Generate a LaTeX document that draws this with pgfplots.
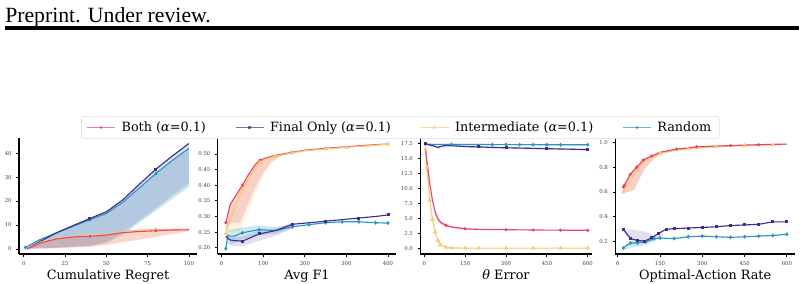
\documentclass[border=0pt]{standalone}
\usepackage{pgfplots}
\pgfplotsset{compat=1.18}
\usepackage{fontspec}
\setmainfont{DejaVu Serif}
\newfontfamily\hdr{Liberation Serif}
\definecolor{cBoth}{RGB}{232,69,107}
\definecolor{cFinal}{RGB}{60,46,140}
\definecolor{cInter}{RGB}{248,200,108}
\definecolor{cRand}{RGB}{42,149,192}
\pgfplotsset{
  panel/.style={
    scale only axis, anchor=south west, height=87pt,
    axis lines=left, axis line style={-, line width=0.9pt, black},
    tick align=outside, major tick length=2pt,
    tick style={black, line width=0.6pt},
    tick label style={font=\fontsize{4}{4}\selectfont, text=black!75},
    /pgf/number format/assume math mode=true,
    xlabel style={font=\fontsize{9.6}{11}\selectfont, inner sep=1pt, yshift=1pt},
    clip=false,
  },
  lBoth/.style={cBoth, line width=0.85pt, mark=*, mark size=0.7pt, mark options={solid, fill=cBoth}},
  lFinal/.style={cFinal, line width=0.85pt, mark=square*, mark size=0.7pt, mark options={solid, fill=cFinal}},
  lInter/.style={cInter, line width=0.85pt, mark=triangle*, mark size=1.1pt, mark options={solid, fill=white}},
  lRand/.style={cRand, line width=0.85pt, mark=diamond*, mark size=0.9pt, mark options={solid, fill=cRand}},
  band/.style={draw=none, fill=#1, fill opacity=0.22, forget plot},
  bandF/.style={draw=none, fill=cFinal, fill opacity=0.14, forget plot},
}
\begin{document}
\begin{tikzpicture}
\path[use as bounding box] (0,0) rectangle (603pt,212.25pt);
\node[anchor=base west, inner sep=0pt, font=\hdr\fontsize{16.3}{18}\selectfont] at (3.75pt,195.75pt) {Preprint. Under review.};
\fill (3.75pt,189.75pt) rectangle (599.25pt,192.4pt);

% Panel 1: Cumulative Regret
\begin{axis}[panel, at={(14.25pt,21.75pt)}, width=133.5pt,
  xmin=-2.9, xmax=104.9, ymin=-2.1, ymax=46.3,
  xtick={0,25,50,75,100}, ytick={0,10,20,30,40},
  xlabel={Cumulative Regret}]
\addplot[band=cRand, fill opacity=0.27] coordinates {(1,0.2)(20,0.5)(40,1.2)(50,2.5)(60,6)(70,11)(80,16)(90,21)(100,26)
  (100,42)(90,37)(80,31.5)(70,25.5)(60,19.5)(50,14.8)(40,12.2)(30,9.5)(20,6.8)(10,4)(1,0.6)} -- cycle;
\addplot[bandF] coordinates {(2,0)(20,0.6)(40,1.5)(50,3)(60,7)(70,12)(80,17)(90,22.5)(100,27.5)
  (100,44.2)(90,39)(80,33.5)(70,27.2)(60,20.7)(50,15.7)(40,12.9)(30,10)(20,7)(10,3.4)(2,0)} -- cycle;
\addplot[band=cInter] coordinates {(2,0)(20,0.4)(40,0.9)(50,1.7)(60,3)(70,4)(80,5.2)(90,6.4)(100,7.5)
  (100,8.3)(90,8.2)(80,8.1)(70,7.9)(60,7.4)(50,6.1)(40,5.6)(30,5.3)(20,4.5)(10,2.8)(2,0)} -- cycle;
\addplot[band=cBoth, fill opacity=0.16] coordinates {(2,0)(20,0.3)(40,0.8)(50,1.6)(60,2.8)(70,3.8)(80,5)(90,6.2)(100,7.3)
  (100,8)(90,7.9)(80,7.6)(70,7.3)(60,6.8)(50,5.8)(40,5.3)(30,5)(20,4.2)(10,2.5)(2,0)} -- cycle;
\addplot[lRand, mark indices={1,5,9}] coordinates {(1,0.6)(10,4)(20,6.8)(30,9.5)(40,12.2)(50,14.8)(60,19.5)(70,25.5)(80,31.5)(90,37)(100,42)};
\addplot[lFinal, mark indices={5,9}] coordinates {(2,0)(10,3.2)(20,6.8)(30,9.8)(40,12.7)(50,15.5)(60,20.5)(70,27)(80,33.3)(90,38.8)(100,44)};
\addplot[lInter, mark indices={5,9}] coordinates {(2,0)(10,2.8)(20,4.5)(30,5.3)(40,5.6)(50,6.1)(60,7.4)(70,7.9)(80,8.1)(90,8.2)(100,8.3)};
\addplot[lBoth, mark indices={5,9}] coordinates {(2,0)(10,2.5)(20,4.2)(30,5)(40,5.3)(50,5.8)(60,6.8)(70,7.3)(80,7.6)(90,7.9)(100,8)};
\end{axis}

% Panel 2: Avg F1
\begin{axis}[panel, at={(163.3pt,21.75pt)}, width=133.8pt,
  xmin=-9.5, xmax=419.5, ymin=0.18, ymax=0.551,
  xtick={0,100,200,300,400}, ytick={0.20,0.25,0.30,0.35,0.40,0.45,0.50},
  yticklabel style={/pgf/number format/.cd, fixed, fixed zerofill, precision=2},
  xlabel={Avg F1}]
\addplot[band=cInter] coordinates {(10,0.22)(20,0.25)(45,0.255)(60,0.30)(80,0.37)(100,0.43)(120,0.47)(140,0.49)(168,0.503)
  (168,0.505)(128,0.495)(108,0.488)(92,0.48)(80,0.465)(64,0.433)(50,0.40)(32,0.363)(20,0.337)(10,0.28)} -- cycle;
\addplot[band=cBoth, fill opacity=0.2] coordinates {(10,0.25)(20,0.28)(45,0.28)(60,0.33)(80,0.39)(100,0.44)(120,0.475)(140,0.492)(168,0.505)
  (168,0.505)(128,0.495)(108,0.488)(92,0.48)(80,0.465)(64,0.433)(50,0.40)(32,0.363)(20,0.337)(10,0.28)} -- cycle;
\addplot[band=cRand] coordinates {(15,0.255)(30,0.26)(50,0.265)(90,0.272)(130,0.266)(170,0.274)
  (170,0.262)(130,0.245)(90,0.24)(50,0.228)(30,0.215)(15,0.21)} -- cycle;
\addplot[bandF] coordinates {(20,0.235)(50,0.235)(90,0.255)(130,0.262)(170,0.28)
  (170,0.262)(130,0.238)(90,0.222)(50,0.205)(20,0.207)} -- cycle;
\addplot[lRand, mark indices={1,5,6,8,9,10,11,12,13,14}] coordinates {(10,0.197)(15,0.24)(20,0.237)(30,0.237)(50,0.248)(90,0.258)(130,0.255)(170,0.267)(210,0.274)(250,0.28)(290,0.283)(330,0.283)(370,0.28)(400,0.279)};
\addplot[lFinal, mark indices={4,5,7,9,11,13}] coordinates {(10,0.237)(20,0.225)(30,0.223)(50,0.221)(90,0.244)(130,0.255)(170,0.275)(210,0.28)(250,0.285)(290,0.29)(330,0.295)(370,0.30)(400,0.305)};
\addplot[lBoth, mark indices={1,4,7,10,12}] coordinates {(10,0.28)(20,0.337)(32,0.363)(50,0.40)(64,0.433)(80,0.465)(92,0.48)(108,0.488)(128,0.495)(168,0.505)(200,0.512)(250,0.518)(300,0.523)(350,0.528)(400,0.532)};
\addplot[lInter, mark indices={1,4,7,9,10,12,13,14,15}] coordinates {(10,0.245)(20,0.29)(32,0.33)(50,0.385)(64,0.42)(80,0.455)(92,0.473)(108,0.485)(128,0.492)(168,0.503)(200,0.51)(250,0.516)(300,0.521)(350,0.526)(400,0.531)};
\end{axis}

% Panel 3: theta Error
\begin{axis}[panel, at={(315.15pt,21.75pt)}, width=128.7pt,
  xmin=-15, xmax=615, ymin=-0.95, ymax=18.38,
  xtick={0,150,300,450,600}, ytick={0,2.5,5,7.5,10,12.5,15,17.5},
  yticklabel style={/pgf/number format/.cd, fixed, fixed zerofill, precision=1},
  xlabel={{\itshape θ} Error}]
\addplot[bandF] coordinates {(4,17.5)(50,17.0)(100,17.25)(200,17.05)(300,16.9)(400,16.8)(500,16.7)(600,16.6)
  (600,16.3)(500,16.4)(400,16.5)(300,16.6)(200,16.75)(100,16.9)(50,16.6)(4,17.3)} -- cycle;
\addplot[band=cRand] coordinates {(4,17.45)(600,17.38)(600,17.12)(4,17.25)} -- cycle;
\addplot[band=cBoth] coordinates {(40,6.4)(60,4.6)(100,3.75)(150,3.45)(200,3.3)(200,3.0)(150,3.05)(100,3.35)(60,4.0)(40,5.6)} -- cycle;
\addplot[lRand, mark indices={1,6,9,10,11,12,13,14,15}] coordinates {(4,17.35)(20,17.33)(40,17.32)(60,17.31)(80,17.3)(100,17.3)(150,17.3)(200,17.29)(250,17.28)(300,17.28)(350,17.27)(400,17.27)(450,17.26)(500,17.26)(600,17.25)};
\addplot[lFinal, mark indices={1,9,11,13,15}] coordinates {(4,17.4)(20,17.2)(40,17.0)(50,16.8)(60,17.0)(80,17.15)(100,17.1)(150,16.95)(200,16.9)(250,16.8)(300,16.75)(400,16.65)(450,16.6)(500,16.55)(600,16.45)};
\addplot[lInter, mark indices={}] coordinates {(4,16.5)(10,13.5)(20,8.0)(30,4.8)(40,2.7)(50,1.3)(60,0.55)(80,0.15)(100,0.06)(150,0.03)(200,0.02)(300,0.02)(400,0.02)(500,0.02)(600,0.02)};
\addplot[lBoth, mark indices={8,10,12,13,14,15}] coordinates {(4,16.6)(10,14.5)(20,10.8)(30,8)(40,6.0)(50,4.9)(60,4.3)(80,3.8)(100,3.55)(150,3.25)(200,3.15)(300,3.1)(400,3.05)(500,3.02)(600,3.0)};
\end{axis}

% Panel 4: Optimal-Action Rate
\begin{axis}[panel, at={(461.4pt,21.75pt)}, width=134.9pt,
  xmin=-9, xmax=629, ymin=0.101, ymax=1.035,
  xtick={0,150,300,450,600}, ytick={0.2,0.4,0.6,0.8,1.0},
  yticklabel style={/pgf/number format/.cd, fixed, fixed zerofill, precision=1},
  xlabel={Optimal-Action Rate}]
\addplot[band=cInter] coordinates {(20,0.60)(40,0.60)(60,0.62)(80,0.72)(100,0.80)(130,0.87)(150,0.90)
  (150,0.92)(120,0.89)(91,0.858)(67,0.80)(44,0.742)(24,0.656)(20,0.64)} -- cycle;
\addplot[band=cBoth, fill opacity=0.2] coordinates {(20,0.60)(40,0.60)(60,0.62)(80,0.72)(100,0.80)(130,0.87)(150,0.90)
  (150,0.92)(120,0.89)(91,0.858)(67,0.80)(44,0.742)(24,0.656)(20,0.64)} -- cycle;
\addplot[bandF] coordinates {(20,0.30)(45,0.30)(90,0.285)(130,0.255)(160,0.28)
  (160,0.25)(130,0.21)(90,0.19)(45,0.21)(20,0.28)} -- cycle;
\addplot[band=cRand] coordinates {(20,0.16)(45,0.20)(90,0.21)(130,0.225)
  (130,0.20)(90,0.17)(45,0.15)(20,0.13)} -- cycle;
\addplot[lRand, mark indices={1,2,3,4,5,6,7,8,9,10,11,12,13,14,15,16,17}] coordinates {(20,0.15)(45,0.19)(70,0.19)(100,0.20)(130,0.225)(150,0.23)(200,0.225)(250,0.24)(300,0.245)(350,0.24)(400,0.235)(450,0.24)(500,0.245)(550,0.25)(600,0.26)};
\addplot[lFinal] coordinates {(20,0.30)(45,0.225)(70,0.21)(95,0.205)(120,0.23)(145,0.268)(172,0.30)(200,0.305)(250,0.31)(300,0.315)(350,0.32)(400,0.33)(450,0.335)(500,0.34)(550,0.36)(600,0.36)};
\addplot[lInter, mark indices={1,3,6,8,10,12,14}] coordinates {(20,0.60)(45,0.70)(70,0.78)(90,0.84)(120,0.88)(150,0.91)(200,0.935)(250,0.948)(300,0.958)(350,0.965)(400,0.97)(450,0.975)(500,0.978)(550,0.981)(600,0.984)};
\addplot[lBoth, mark indices={1,2,3,4,5,6,8,10,12,14}] coordinates {(20,0.64)(24,0.656)(44,0.742)(67,0.80)(91,0.858)(120,0.89)(150,0.92)(209,0.946)(250,0.955)(280,0.965)(350,0.97)(400,0.974)(450,0.978)(500,0.981)(550,0.984)(600,0.986)};
\end{axis}

% Legend
\begin{axis}[at={(0pt,0pt)}, anchor=south west, scale only axis, width=603pt, height=212.25pt,
  hide axis, xmin=0, xmax=1, ymin=0, ymax=1,
  legend columns=4,
  legend style={at={(0.498,0.590)}, anchor=north, draw=black!12, rounded corners=1.5pt, fill=white,
    font=\fontsize{9.6}{11}\selectfont, inner xsep=4pt, inner ysep=2pt,
    /tikz/every odd column/.append style={column sep=2.5pt},
    /tikz/every even column/.append style={column sep=20pt}},
  legend image code/.code={\draw[mark repeat=2,mark phase=2,#1] plot coordinates {(0pt,0pt)(10.5pt,0pt)(21pt,0pt)};}]
\addlegendimage{lBoth, line width=0.6pt, opacity=0.7}
\addlegendentry{Both ({\itshape α}=0.1)}
\addlegendimage{lFinal, line width=0.6pt, opacity=0.7}
\addlegendentry{Final Only ({\itshape α}=0.1)}
\addlegendimage{lInter, line width=0.6pt, opacity=0.7}
\addlegendentry{Intermediate ({\itshape α}=0.1)}
\addlegendimage{lRand, line width=0.6pt, opacity=0.7}
\addlegendentry{Random}
\end{axis}
\end{tikzpicture}
\end{document}
